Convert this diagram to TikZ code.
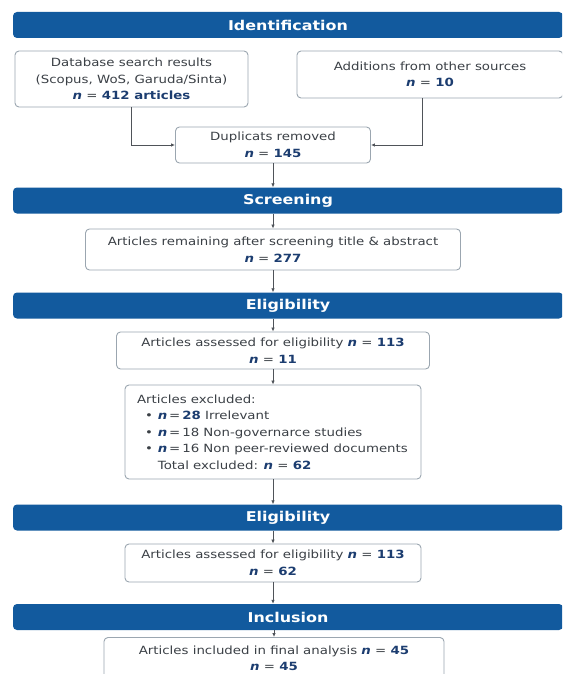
\documentclass[tikz,border=0pt]{standalone}
\usepackage{fontspec}
\setmainfont[FakeStretch=1.18]{DejaVu Sans}
\usetikzlibrary{arrows.meta,positioning}
\definecolor{bar}{HTML}{125A9E}
\definecolor{ink}{HTML}{3B4046}
\definecolor{num}{HTML}{1C3D70}
\definecolor{frame}{HTML}{9BA6B0}
\newcommand{\nval}[1]{{\color{num}\bfseries\itshape n} = {\color{num}\bfseries #1}}
\newcommand{\nitem}[1]{\hspace*{8pt}\textbullet\hspace{5pt}{\color{num}\bfseries\itshape n}\,=\,#1}
\tikzset{
  >={Latex[length=4pt,width=3.5pt]},
  every node/.style={font=\fontsize{11.3}{16.5}\selectfont,text=ink},
  stagebar/.style={fill=bar,rounded corners=4pt,minimum width=550pt,minimum height=26pt,font=\fontsize{13.5}{14}\selectfont\bfseries,text=white,inner sep=0pt},
  box/.style={draw=frame,line width=0.9pt,rounded corners=4pt,fill=white,align=center,inner sep=2pt},
  arrow/.style={->,line width=1pt,draw=ink!90},
}

\begin{document}
\begin{tikzpicture}[x=1pt,y=1pt]
\clip (0,0) rectangle (562,-674);
\fill[white] (0,0) rectangle (562,-674);

% stage bars
\node[stagebar] (ident) at (288,-25) {Identification};
\node[stagebar] (screen) at (288,-200.5) {Screening};
\node[stagebar] (elig) at (288,-305.5) {Eligibility};
\node[stagebar] (elig2) at (288,-517.5) {Eligibility};
\node[stagebar] (incl) at (288,-617) {Inclusion};

% identification
\node[box,minimum width=233pt,minimum height=56pt] (db) at (131.5,-79) {Database search results\\(Scopus, WoS, Garuda/Sinta)\\\nval{412 articles}};
\node[box,minimum width=266pt,minimum height=47pt] (add) at (430,-74.5) {Additions from other sources\\\nval{10}};
\node[box,minimum width=195pt,minimum height=36pt] (dup) at (273,-145) {Duplicats removed\\\nval{145}};

% screening
\node[box,minimum width=375pt,minimum height=41pt] (rem) at (273,-249.5) {Articles remaining after screening title \& abstract\\\nval{277}};

% eligibility
\node[box,minimum width=313pt,minimum height=37pt] (ass1) at (273,-350.5) {Articles assessed for eligibility \nval{113}\\\nval{11}};
\node[box,minimum height=94pt,align=flush left,text width=272pt,inner xsep=12pt] (exc) at (273,-432) {Articles excluded:\\
\nitem{{\color{num}\bfseries 28}} Irrelevant\\
\nitem{18} Non-governarce studies\\
\nitem{16} Non peer-reviewed documents\\
\hspace*{8pt}\phantom{\textbullet}\hspace{5pt}Total excluded: \nval{62}};

\node[box,minimum width=296pt,minimum height=38pt] (ass2) at (273,-563) {Articles assessed for eligibility \nval{113}\\\nval{62}};

% inclusion
\node[box,minimum width=340pt,minimum height=42pt] (fin) at (274,-658.5) {Articles included in final analysis \nval{45}\\\nval{45}};

% connectors
\draw[arrow] (db.south) |- (dup.west);
\draw[arrow] ([xshift=-8pt]add.south) |- (dup.east);
\draw[arrow] (dup.south) -- (dup.south |- screen.north);
\draw[arrow] (rem.north |- screen.south) -- (rem.north);
\draw[arrow] (rem.south) -- (rem.south |- elig.north);
\draw[arrow] (ass1.north |- elig.south) -- (ass1.north);
\draw[arrow] (ass1.south) -- (exc.north);
\draw[arrow] (exc.south) -- (exc.south |- elig2.north);
\draw[arrow] (ass2.north |- elig2.south) -- (ass2.north);
\draw[arrow] (ass2.south) -- (ass2.south |- incl.north);
\draw[arrow] (fin.north |- incl.south) -- (fin.north);

\end{tikzpicture}
\end{document}
